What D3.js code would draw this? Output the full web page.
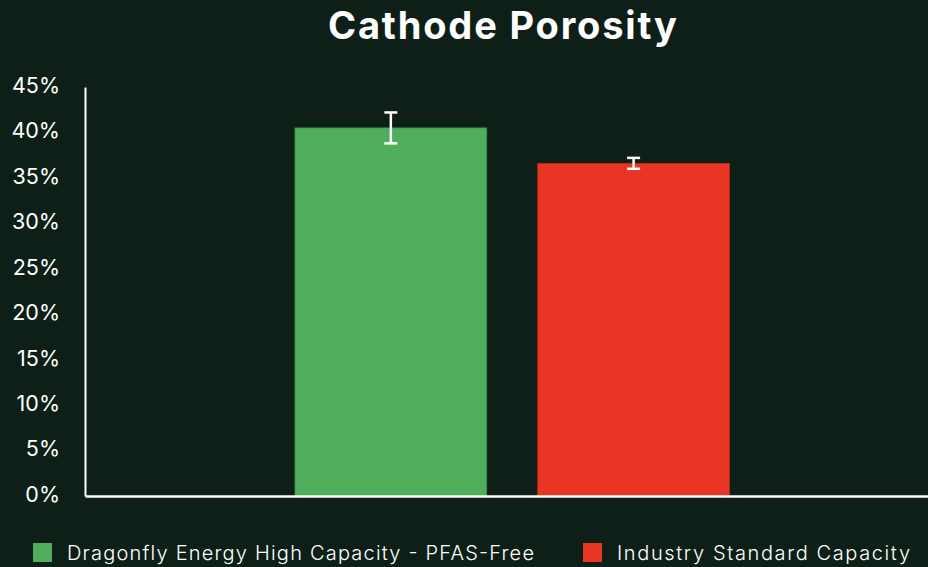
<!DOCTYPE html>
<html><head><meta charset="utf-8">
<script src="https://cdn.jsdelivr.net/npm/d3@7"></script>
<style>body{margin:0;background:#0e1f17;}svg{display:block;}</style>
</head><body>
<script>
const title = "Cathode Porosity";
const categories = ["Cathode Porosity"];
const series = ["Dragonfly Energy High Capacity - PFAS-Free", "Industry Standard Capacity"];
const values = [40.5, 36.6];
const errors = [1.7, 0.6];
const colors = ["#4fad5c", "#e93524"];
const yTicks = [0, 5, 10, 15, 20, 25, 30, 35, 40, 45];

const W = 928, H = 567;
const m = {left: 85, right: 0, top: 87, bottom: 71};
const svg = d3.select("body").append("svg").attr("width", W).attr("height", H);
svg.append("rect").attr("width", W).attr("height", H).attr("fill", "#0e1f17");
const font = "Inter, 'Open Sans', sans-serif";

svg.append("text").attr("x", 502.5).attr("y", 39).attr("text-anchor", "middle")
  .attr("fill", "#fff").attr("font-family", font).attr("font-weight", 700)
  .attr("font-size", 38).attr("textLength", 349).attr("lengthAdjust", "spacing").text(title);

const y = d3.scaleLinear().domain([0, 45]).range([H - m.bottom, m.top]);
const x0 = d3.scaleBand().domain(categories).range([m.left, W - m.right])
  .paddingInner(0).paddingOuter(0.47).align(0.514);
const x1 = d3.scaleBand().domain(series).range([0, x0.bandwidth()]).paddingInner(0.21);

const g = svg.append("g");
const yAxis = d3.axisLeft(y).tickValues(yTicks).tickSize(0).tickPadding(25).tickFormat(d => d + "%");
const ya = g.append("g").attr("transform", `translate(${m.left},0)`).call(yAxis);
ya.select(".domain").attr("stroke", "#fff").attr("stroke-width", 2);
ya.selectAll("text").attr("fill", "#fff").attr("font-family", font).attr("font-size", 21.5).attr("dy", "0.25em");

series.forEach((s, i) => {
  const bx = x0(categories[0]) + x1(s);
  g.append("rect").attr("x", bx).attr("y", y(values[i])).attr("width", x1.bandwidth())
    .attr("height", y(0) - y(values[i])).attr("fill", colors[i])
    .attr("stroke", d3.color(colors[i]).darker(0.6)).attr("stroke-width", 0.8);
  const cx = bx + x1.bandwidth() / 2;
  const e = g.append("g").attr("stroke", "#fff").attr("stroke-width", 2.5);
  e.append("line").attr("x1", cx).attr("x2", cx).attr("y1", y(values[i] + errors[i])).attr("y2", y(values[i] - errors[i]));
  [values[i] + errors[i], values[i] - errors[i]].forEach(v => {
    e.append("line").attr("x1", cx - 6.5).attr("x2", cx + 6.5).attr("y1", y(v)).attr("y2", y(v));
  });
});

const xAxis = d3.axisBottom(x0).tickSize(0).tickFormat("");
const xa = g.append("g").attr("transform", `translate(0,${y(0)})`).call(xAxis);
xa.select(".domain").attr("stroke", "#fff").attr("stroke-width", 2.5);

const legX = [33, 583];
const legW = [467, 293];
series.forEach((s, i) => {
  const lg = svg.append("g").attr("transform", `translate(${legX[i]},543)`);
  lg.append("rect").attr("width", 19).attr("height", 19).attr("fill", colors[i]);
  lg.append("text").attr("x", 34).attr("y", 16.5).attr("fill", "#fff")
    .attr("font-family", font).attr("font-weight", 300).attr("font-size", 20)
    .attr("textLength", legW[i]).attr("lengthAdjust", "spacing").text(s);
});
</script>
</body></html>
